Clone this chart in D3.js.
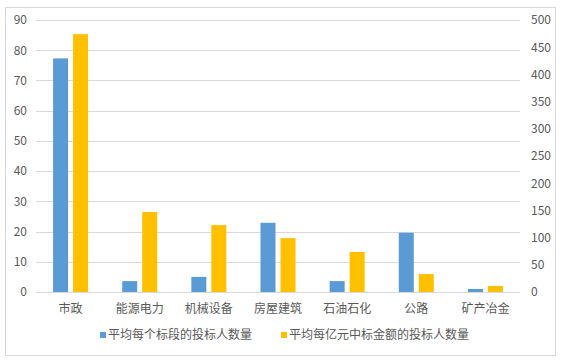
<!DOCTYPE html>
<html>
<head>
<meta charset="utf-8">
<script src="https://cdn.jsdelivr.net/npm/d3@7"></script>
<style>
  body { margin: 0; background: #fff; }
  text { font-family: "Noto Sans CJK SC", "Microsoft YaHei", sans-serif; fill: #595959; }
</style>
</head>
<body>
<svg id="mainsvg" width="566" height="364"></svg>
<script>
// data
const categories = ['市政', '能源电力', '机械设备', '房屋建筑', '石油石化', '公路', '矿产冶金'];
const bidsPerSection = [77.3, 3.6, 5.0, 22.9, 3.6, 19.6, 1.0];      // left axis
const bidsPerHundredM = [474, 147, 123, 99, 73.5, 33, 11];          // right axis
const leftTicks = [0, 10, 20, 30, 40, 50, 60, 70, 80, 90];
const rightTicks = [0, 50, 100, 150, 200, 250, 300, 350, 400, 450, 500];
const seriesNames = ['平均每个标段的投标人数量', '平均每亿元中标金额的投标人数量'];
const colors = ['#5B9BD5', '#FFC000'];

const svg = d3.select('#mainsvg');
const margin = {top: 20, right: 46, bottom: 72, left: 36};
const width = +svg.attr('width');
const height = +svg.attr('height');
const innerWidth = width - margin.left - margin.right;
const innerHeight = height - margin.top - margin.bottom;

// outer chart border
svg.append('rect')
  .attr('x', 5.5).attr('y', 7.5)
  .attr('width', 550).attr('height', 348)
  .attr('fill', 'none')
  .attr('stroke', '#D9D9D9');

const g = svg.append('g')
  .attr('transform', `translate(${margin.left}, ${margin.top})`);

const xScale = d3.scaleBand()
  .domain(categories)
  .range([0, innerWidth]);

const yLeft = d3.scaleLinear().domain([0, 90]).range([innerHeight, 0]);
const yRight = d3.scaleLinear().domain([0, 500]).range([innerHeight, 0]);

// gridlines
g.append('g')
  .selectAll('line')
  .data(leftTicks)
  .join('line')
  .attr('x1', 0).attr('x2', innerWidth)
  .attr('y1', d => Math.round(yLeft(d)) + 0.5)
  .attr('y2', d => Math.round(yLeft(d)) + 0.5)
  .attr('stroke', '#D9D9D9')
  .attr('stroke-width', 1);

// left axis
const yAxisL = d3.axisLeft(yLeft).tickValues(leftTicks).tickSize(0).tickPadding(9);
g.append('g').call(yAxisL)
  .call(a => a.select('.domain').remove())
  .selectAll('text')
  .attr('font-size', '12px')
  .attr('fill', '#595959');

// right axis
const yAxisR = d3.axisRight(yRight).tickValues(rightTicks).tickSize(0).tickPadding(11);
g.append('g')
  .attr('transform', `translate(${innerWidth}, 0)`)
  .call(yAxisR)
  .call(a => a.select('.domain').remove())
  .selectAll('text')
  .attr('font-size', '12px')
  .attr('fill', '#595959');

// bars
const barW = 15, barGap = 5;
const groupW = barW * 2 + barGap;
const series = [bidsPerSection, bidsPerHundredM];
const scales = [yLeft, yRight];

series.forEach((vals, s) => {
  g.append('g')
    .selectAll('rect')
    .data(vals)
    .join('rect')
    .attr('x', (d, i) => xScale(categories[i]) + (xScale.bandwidth() - groupW) / 2 + s * (barW + barGap))
    .attr('y', d => scales[s](d))
    .attr('width', barW)
    .attr('height', d => innerHeight - scales[s](d))
    .attr('fill', colors[s]);
});

// x axis line + labels
g.append('line')
  .attr('x1', 0).attr('x2', innerWidth)
  .attr('y1', innerHeight + 0.5).attr('y2', innerHeight + 0.5)
  .attr('stroke', '#D9D9D9');

g.append('g')
  .selectAll('text')
  .data(categories)
  .join('text')
  .attr('x', d => xScale(d) + xScale.bandwidth() / 2)
  .attr('y', innerHeight + 21)
  .attr('text-anchor', 'middle')
  .attr('font-size', '12px')
  .text(d => d);

// legend
const legendX = [100, 281];
const legend = svg.append('g')
  .selectAll('g')
  .data(seriesNames)
  .join('g')
  .attr('transform', (d, i) => `translate(${legendX[i]}, ${335})`);

legend.append('rect')
  .attr('x', 0).attr('y', -3)
  .attr('width', 6).attr('height', 6)
  .attr('fill', (d, i) => colors[i]);

legend.append('text')
  .attr('x', 8)
  .attr('y', 0)
  .attr('dy', '0.35em')
  .attr('font-size', '12px')
  .text(d => d);
</script>
</body>
</html>
